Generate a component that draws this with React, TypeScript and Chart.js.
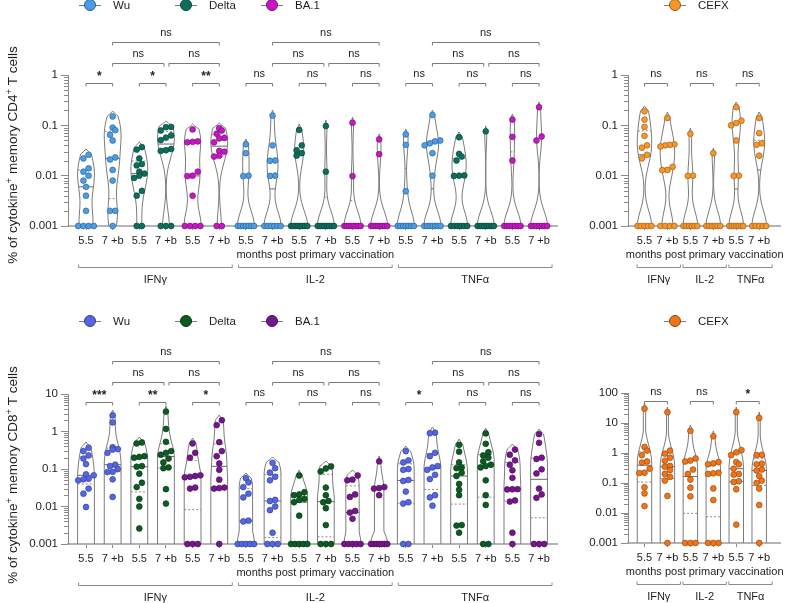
import React, { useEffect, useRef } from 'react';
import { Chart, registerables } from 'chart.js';

Chart.register(...registerables);

const FONT = 'Arial, "Liberation Sans", Helvetica, sans-serif';
const INK = '#1e1e1e';
const AXIS = '#8a8a8a';

// ---------- labels ----------
const cytokines = ['IFNγ', 'IL-2', 'TNFα'];
const timepoints = ['5.5', '7 +b'];
const variants = ['Wu', 'Delta', 'BA.1'];
const controlName = 'CEFX';
const xTitle = 'months post primary vaccination';
const cd4Title = ['% of cytokine', '+', ' memory CD4', '+', ' T cells'];
const cd8Title = ['% of cytokine', '+', ' memory CD8', '+', ' T cells'];

// ---------- y axes ----------
const cd4Ticks = [0.001, 0.01, 0.1, 1];
const cd4TickLabels = ['0.001', '0.01', '0.1', '1'];
const cd8Ticks = [0.001, 0.01, 0.1, 1, 10];
const cd8TickLabels = ['0.001', '0.01', '0.1', '1', '10'];
const cd8CefxTicks = [0.001, 0.01, 0.1, 1, 10, 100];
const cd8CefxTickLabels = ['0.001', '0.01', '0.1', '1', '10', '100'];

// ---------- CD4 data (per cytokine: Wu 5.5, Wu 7+b, Delta 5.5, Delta 7+b, BA.1 5.5, BA.1 7+b) ----------
const cd4IFNg = [
  [0.026, 0.022, 0.014, 0.012, 0.01, 0.008, 0.006, 0.004, 0.002, 0.001, 0.001, 0.001, 0.001],
  [0.15, 0.09, 0.08, 0.065, 0.05, 0.023, 0.021, 0.013, 0.008, 0.002, 0.002, 0.001],
  [0.037, 0.033, 0.022, 0.017, 0.016, 0.012, 0.011, 0.01, 0.009, 0.005, 0.004, 0.001, 0.001],
  [0.093, 0.092, 0.079, 0.063, 0.057, 0.051, 0.034, 0.032, 0.031, 0.001, 0.001, 0.001],
  [0.083, 0.048, 0.047, 0.046, 0.012, 0.01, 0.0098, 0.004, 0.001, 0.001, 0.001, 0.001],
  [0.088, 0.079, 0.068, 0.056, 0.055, 0.046, 0.031, 0.03, 0.025, 0.024, 0.001, 0.001],
];
const cd4IL2 = [
  [0.042, 0.028, 0.01, 0.0098, 0.001, 0.001, 0.001, 0.001, 0.001, 0.001, 0.001],
  [0.156, 0.04, 0.02, 0.0198, 0.01, 0.0099, 0.001, 0.001, 0.001, 0.001, 0.001, 0.001],
  [0.081, 0.04, 0.032, 0.028, 0.025, 0.001, 0.001, 0.001, 0.001, 0.001, 0.001, 0.001, 0.001],
  [0.097, 0.012, 0.001, 0.001, 0.001, 0.001, 0.001, 0.001, 0.001, 0.001],
  [0.113, 0.0098, 0.001, 0.001, 0.001, 0.001, 0.001, 0.001, 0.001, 0.001],
  [0.0525, 0.0267, 0.001, 0.001, 0.001, 0.001, 0.001, 0.001, 0.001, 0.001],
];
const cd4TNFa = [
  [0.066, 0.041, 0.0049, 0.001, 0.001, 0.001, 0.001, 0.001, 0.001, 0.001],
  [0.16, 0.05, 0.048, 0.044, 0.04, 0.028, 0.01, 0.001, 0.001, 0.001, 0.001, 0.001, 0.001, 0.001],
  [0.058, 0.027, 0.024, 0.02, 0.0101, 0.01, 0.0099, 0.001, 0.001, 0.001, 0.001, 0.001, 0.001],
  [0.076, 0.001, 0.001, 0.001, 0.001, 0.001, 0.001, 0.001, 0.001],
  [0.13, 0.059, 0.02, 0.001, 0.001, 0.001, 0.001, 0.001, 0.001, 0.001],
  [0.229, 0.06, 0.05, 0.001, 0.001, 0.001, 0.001, 0.001, 0.001, 0.001],
];
// CEFX: IFNγ 5.5, IFNγ 7+b, IL-2 5.5, IL-2 7+b, TNFα 5.5, TNFα 7+b
const cd4CEFX = [
  [0.19, 0.13, 0.093, 0.062, 0.04, 0.036, 0.026, 0.022, 0.001, 0.001, 0.001, 0.001, 0.001],
  [0.14, 0.042, 0.041, 0.04, 0.038, 0.015, 0.013, 0.0129, 0.001, 0.001, 0.001, 0.001],
  [0.068, 0.01, 0.0099, 0.001, 0.001, 0.001, 0.001, 0.001, 0.001],
  [0.028, 0.001, 0.001, 0.001, 0.001, 0.001, 0.001],
  [0.229, 0.124, 0.111, 0.1, 0.05, 0.01, 0.0099, 0.001, 0.001, 0.001, 0.001, 0.001, 0.001, 0.001],
  [0.14, 0.07, 0.044, 0.041, 0.025, 0.001, 0.001, 0.001, 0.001, 0.001],
];

// ---------- CD8 data ----------
const cd8IFNg = [
  [0.37, 0.3, 0.23, 0.19, 0.135, 0.072, 0.068, 0.055, 0.053, 0.05, 0.03, 0.022, 0.0097],
  [2.7, 1.75, 0.38, 0.34, 0.33, 0.27, 0.13, 0.12, 0.1, 0.084, 0.083, 0.053, 0.018],
  [0.51, 0.48, 0.22, 0.21, 0.2, 0.12, 0.115, 0.075, 0.043, 0.033, 0.016, 0.01, 0.0026],
  [3.4, 1.17, 0.53, 0.3, 0.27, 0.24, 0.19, 0.15, 0.11, 0.105, 0.029, 0.012],
  [0.48, 0.27, 0.2, 0.068, 0.065, 0.062, 0.06, 0.032, 0.03, 0.001, 0.001, 0.001],
  [2.0, 1.48, 0.52, 0.3, 0.22, 0.14, 0.095, 0.052, 0.032, 0.031, 0.03, 0.001],
];
const cd8IL2 = [
  [0.057, 0.044, 0.033, 0.022, 0.0175, 0.0042, 0.004, 0.001, 0.001, 0.001, 0.001, 0.001],
  [0.146, 0.105, 0.08, 0.062, 0.05, 0.015, 0.014, 0.01, 0.008, 0.002, 0.001, 0.001, 0.001],
  [0.067, 0.024, 0.021, 0.02, 0.016, 0.015, 0.013, 0.0057, 0.001, 0.001, 0.001, 0.001, 0.001],
  [0.117, 0.103, 0.086, 0.032, 0.02, 0.014, 0.013, 0.009, 0.0032, 0.001, 0.001, 0.001],
  [0.067, 0.052, 0.05, 0.021, 0.018, 0.0076, 0.0069, 0.0047, 0.001, 0.001, 0.001, 0.001, 0.001],
  [0.16, 0.033, 0.031, 0.03, 0.02, 0.001, 0.001, 0.001, 0.001, 0.001, 0.001, 0.001],
];
const cd8TNFa = [
  [0.3, 0.17, 0.15, 0.1, 0.095, 0.051, 0.048, 0.025, 0.013, 0.012, 0.001, 0.001],
  [0.93, 0.9, 0.27, 0.22, 0.12, 0.11, 0.095, 0.07, 0.054, 0.02, 0.0175, 0.0105],
  [0.44, 0.29, 0.15, 0.11, 0.105, 0.08, 0.065, 0.04, 0.028, 0.02, 0.0032, 0.0031, 0.002],
  [0.89, 0.47, 0.28, 0.23, 0.2, 0.16, 0.13, 0.12, 0.11, 0.05, 0.02, 0.011, 0.001, 0.001],
  [0.33, 0.24, 0.17, 0.13, 0.092, 0.058, 0.029, 0.0288, 0.0285, 0.0145, 0.0135, 0.002, 0.001],
  [0.85, 0.5, 0.2, 0.185, 0.098, 0.076, 0.03, 0.021, 0.017, 0.001, 0.001, 0.001],
];
const cd8CEFX = [
  [30, 1.6, 1.2, 0.85, 0.52, 0.48, 0.3, 0.22, 0.215, 0.072, 0.045, 0.017],
  [23, 1.2, 0.95, 0.7, 0.55, 0.37, 0.35, 0.27, 0.2, 0.16, 0.12, 0.037, 0.001],
  [5.5, 0.66, 0.56, 0.52, 0.28, 0.2, 0.13, 0.07, 0.036, 0.001, 0.001, 0.001],
  [3.6, 0.5, 0.45, 0.42, 0.22, 0.21, 0.2, 0.066, 0.027, 0.001, 0.001, 0.001],
  [23, 1.25, 1.05, 0.85, 0.5, 0.42, 0.3, 0.2, 0.19, 0.114, 0.108, 0.062, 0.0041],
  [14.7, 0.87, 0.85, 0.44, 0.42, 0.28, 0.26, 0.17, 0.12, 0.1, 0.065, 0.0185, 0.001],
];

// ---------- significance ----------
const cd4PairSig = ['*', '*', '**', 'ns', 'ns', 'ns', 'ns', 'ns', 'ns'];
const cd4StepSig = ['ns', 'ns', 'ns', 'ns', 'ns', 'ns'];
const cd4SpanSig = ['ns', 'ns', 'ns'];
const cd4CefxSig = ['ns', 'ns', 'ns'];
const cd8PairSig = ['***', '**', '*', 'ns', 'ns', 'ns', '*', 'ns', 'ns'];
const cd8StepSig = ['ns', 'ns', 'ns', 'ns', 'ns', 'ns'];
const cd8SpanSig = ['ns', 'ns', 'ns'];
const cd8CefxSig = ['ns', 'ns', '*'];

// ---------- colours ----------
const cd4Colors = ['#4a9de6', '#0e6e5c', '#c318c3'];
const cd4CefxColor = '#f7962a';
const cd8Colors = ['#5566e4', '#0c5b22', '#77168c'];
const cd8CefxColor = '#f07418';

// ---------- helpers ----------
type Sig = { a: number; b: number; level: number; text: string; trimA?: number; trimB?: number };
type LegendItem = { label: string; color: string; x: number; y: number };
type Cfg = {
  left: number; top: number; width: number; height: number;
  area: { left: number; top: number; right: number; bottom: number };
  groups: number[][]; colors: string[]; tickLabels: string[];
  yMin: number; yMax: number; yTicks: number[]; yTickLabels: string[];
  xMin: number; xMax: number; hold: boolean; bw: number;
  brackets: { label: string; from: number; to: number }[];
  monthsSpan: [number, number];
  sigs: Sig[];
  legend: LegendItem[];
  title?: { parts: string[]; x: number; y: number };
};

function darken(hex: string, f: number) {
  const n = parseInt(hex.slice(1), 16);
  const r = Math.round(((n >> 16) & 255) * f), g = Math.round(((n >> 8) & 255) * f), b = Math.round((n & 255) * f);
  return `rgb(${r},${g},${b})`;
}

function quantile(sorted: number[], p: number) {
  const n = sorted.length;
  const pos = p * (n + 1);
  if (pos <= 1) return sorted[0];
  if (pos >= n) return sorted[n - 1];
  const i = Math.floor(pos);
  return sorted[i - 1] + (pos - i) * (sorted[i] - sorted[i - 1]);
}

function mainSigs(pair: string[], step: string[], span: string[]): Sig[] {
  const out: Sig[] = [];
  for (let c = 0; c < 3; c++) {
    const b = c * 6;
    for (let p = 0; p < 3; p++) out.push({ a: b + 2 * p, b: b + 2 * p + 1, level: 0, text: pair[c * 3 + p] });
    out.push({ a: b + 1, b: b + 3, level: 1, text: step[c * 2], trimB: -2 });
    out.push({ a: b + 3, b: b + 5, level: 1, text: step[c * 2 + 1], trimA: 3 });
    out.push({ a: b + 1, b: b + 5, level: 2, text: span[c] });
  }
  return out;
}
function cefxSigs(pair: string[]): Sig[] {
  return pair.map((t, i) => ({ a: 2 * i, b: 2 * i + 1, level: 0, text: t }));
}

const TIP = 5;
const LEVELS = [8, -12, -33.5];

function textCentered(ctx: CanvasRenderingContext2D, s: string, x: number, cy: number, font: string) {
  ctx.font = font;
  ctx.textAlign = 'center';
  ctx.textBaseline = 'alphabetic';
  const m = ctx.measureText(s);
  ctx.fillText(s, x, cy + (m.actualBoundingBoxAscent - m.actualBoundingBoxDescent) / 2);
}

function violinProfile(chart: any, cfg: Cfg, vals: number[]) {
  const ys = chart.scales.y;
  const xs = chart.scales.x;
  const unit = xs.getPixelForValue(1) - xs.getPixelForValue(0);
  const halfW = unit * 0.315;
  const floor = ys.getPixelForValue(cfg.yMin);
  const pys = vals.map((v) => ys.getPixelForValue(v));
  const top = Math.min(...pys) - TIP;
  const N = Math.max(2, Math.ceil(floor - top));
  const d: number[] = [];
  for (let k = 0; k <= N; k++) {
    const y = floor - k;
    let s = 0;
    for (const p of pys) {
      const z = (y - p) / cfg.bw;
      s += Math.exp(-0.5 * z * z);
    }
    d.push(s);
  }
  if (cfg.hold) for (let k = N - 1; k >= 0; k--) d[k] = Math.max(d[k], d[k + 1]);
  const mx = Math.max(...d);
  const w = d.map((s, k) => {
    let v = (s / mx) * halfW;
    const fromTop = N - k;
    if (fromTop < TIP) v *= fromTop / TIP;
    return v;
  });
  return { w, N, floor };
}

function makePlugin(cfg: Cfg) {
  return {
    id: 'decor',
    beforeDatasetsDraw(chart: any) {
      const ctx: CanvasRenderingContext2D = chart.ctx;
      const xs = chart.scales.x, ys = chart.scales.y;
      ctx.save();
      cfg.groups.forEach((vals, gi) => {
        const cx = xs.getPixelForValue(gi);
        const { w, N, floor } = violinProfile(chart, cfg, vals);
        ctx.beginPath();
        ctx.moveTo(cx - w[0], floor);
        for (let k = 1; k <= N; k++) ctx.lineTo(cx - w[k], floor - k);
        for (let k = N; k >= 0; k--) ctx.lineTo(cx + w[k], floor - k);
        ctx.strokeStyle = '#7c7c7c';
        ctx.lineWidth = 1;
        ctx.setLineDash([]);
        ctx.stroke();
        const sorted = [...vals].sort((a, b) => a - b);
        const qs: [number, boolean][] = [[0.25, true], [0.5, false], [0.75, true]];
        qs.forEach(([p, dashed]) => {
          const q = quantile(sorted, p);
          const py = ys.getPixelForValue(q);
          if (py > floor - 1.5) return;
          const k = Math.min(N, Math.max(0, Math.round(floor - py)));
          const ww = w[k];
          ctx.beginPath();
          ctx.setLineDash(dashed ? [2, 2] : []);
          ctx.strokeStyle = dashed ? '#8a8a8a' : '#6a6a6a';
          ctx.moveTo(cx - ww, py);
          ctx.lineTo(cx + ww, py);
          ctx.stroke();
        });
      });
      ctx.restore();
    },
    afterDraw(chart: any) {
      const ctx: CanvasRenderingContext2D = chart.ctx;
      const xs = chart.scales.x, ys = chart.scales.y;
      const area = chart.chartArea;
      ctx.save();
      ctx.setLineDash([]);
      // minor y ticks
      ctx.strokeStyle = AXIS;
      ctx.lineWidth = 1;
      for (let dec = cfg.yMin; dec < cfg.yMax * 0.99; dec *= 10) {
        for (let m = 2; m <= 9; m++) {
          const y = Math.round(ys.getPixelForValue(m * dec)) + 0.5;
          ctx.beginPath();
          ctx.moveTo(area.left - 4, y);
          ctx.lineTo(area.left, y);
          ctx.stroke();
        }
      }
      // cytokine group brackets
      const base = area.bottom;
      ctx.strokeStyle = '#8c8c8c';
      cfg.brackets.forEach((br) => {
        const x1 = xs.getPixelForValue(br.from) - 7.4;
        const x2 = xs.getPixelForValue(br.to) + 13;
        const y = Math.round(base + 41) + 0.5;
        ctx.beginPath();
        ctx.moveTo(x1, y - 3);
        ctx.lineTo(x1, y);
        ctx.lineTo(x2, y);
        ctx.lineTo(x2, y - 3);
        ctx.stroke();
        ctx.fillStyle = INK;
        ctx.font = `11px ${FONT}`;
        ctx.textAlign = 'center';
        ctx.textBaseline = 'middle';
        ctx.fillText(br.label, (x1 + x2) / 2, base + 54);
      });
      // months label
      {
        const x1 = xs.getPixelForValue(cfg.monthsSpan[0]) - 7.4;
        const x2 = xs.getPixelForValue(cfg.monthsSpan[1]) + 13;
        ctx.fillStyle = INK;
        ctx.font = `11px ${FONT}`;
        ctx.textAlign = 'center';
        ctx.textBaseline = 'middle';
        ctx.fillText(xTitle, (x1 + x2) / 2, base + 29);
      }
      // significance brackets
      cfg.sigs.forEach((s) => {
        const x1 = xs.getPixelForValue(s.a) + (s.trimA || 0);
        const x2 = xs.getPixelForValue(s.b) + (s.trimB || 0);
        const y = Math.round(area.top + LEVELS[s.level]) + 0.5;
        ctx.strokeStyle = '#7a7a7a';
        ctx.beginPath();
        ctx.moveTo(x1, y + 3);
        ctx.lineTo(x1, y);
        ctx.lineTo(x2, y);
        ctx.lineTo(x2, y + 3);
        ctx.stroke();
        ctx.fillStyle = INK;
        const isStar = s.text.indexOf('*') >= 0;
        textCentered(ctx, s.text, (x1 + x2) / 2, y - 10, isStar ? `bold 12px ${FONT}` : `11px ${FONT}`);
      });
      // legend
      cfg.legend.forEach((it) => {
        ctx.strokeStyle = '#7a7a7a';
        ctx.beginPath();
        ctx.moveTo(it.x - 11, it.y + 0.5);
        ctx.lineTo(it.x + 11, it.y + 0.5);
        ctx.stroke();
        ctx.beginPath();
        ctx.arc(it.x, it.y, 5.5, 0, Math.PI * 2);
        ctx.fillStyle = it.color;
        ctx.fill();
        ctx.strokeStyle = darken(it.color, 0.6);
        ctx.stroke();
        ctx.fillStyle = INK;
        ctx.font = `11.5px ${FONT}`;
        ctx.textAlign = 'left';
        ctx.textBaseline = 'middle';
        ctx.fillText(it.label, it.x + 23, it.y + 0.5);
      });
      // y title with superscripts
      if (cfg.title) {
        const t = cfg.title;
        ctx.translate(t.x, t.y);
        ctx.rotate(-Math.PI / 2);
        const big = `13.5px ${FONT}`, small = `9.5px ${FONT}`;
        const widths = t.parts.map((p, i) => {
          ctx.font = i % 2 === 1 ? small : big;
          return ctx.measureText(p).width;
        });
        const total = widths.reduce((a, b) => a + b, 0);
        let x = -total / 2;
        ctx.fillStyle = INK;
        ctx.textAlign = 'left';
        ctx.textBaseline = 'alphabetic';
        t.parts.forEach((p, i) => {
          const sup = i % 2 === 1;
          ctx.font = sup ? small : big;
          ctx.fillText(p, x, sup ? -0.5 : 5);
          x += widths[i];
        });
      }
      ctx.restore();
    },
  };
}

function applySpread(chart: any, cfg: Cfg) {
  const xs = chart.scales.x, ys = chart.scales.y;
  const unit = xs.getPixelForValue(1) - xs.getPixelForValue(0);
  const halfW = unit * 0.315;
  const D = 5.2;
  const maxSpan = 2 * halfW - 0.5;
  cfg.groups.forEach((vals, gi) => {
    const pts = vals.map((v, k) => ({ k, py: ys.getPixelForValue(v) })).sort((a, b) => b.py - a.py);
    const offs = new Array(vals.length).fill(0);
    let i = 0;
    while (i < pts.length) {
      let j = i + 1;
      while (j < pts.length && Math.abs(pts[j].py - pts[i].py) < D) j++;
      const row = pts.slice(i, j);
      const n = row.length;
      const s = n > 1 ? Math.min(D, maxSpan / (n - 1)) : 0;
      row.forEach((p, r) => (offs[p.k] = (r - (n - 1) / 2) * s));
      i = j;
    }
    chart.data.datasets[gi].data = vals.map((v, k) => ({ x: gi + offs[k] / unit, y: v }));
  });
  chart.update('none');
}

function buildChart(canvas: HTMLCanvasElement, cfg: Cfg) {
  const datasets = cfg.groups.map((vals, gi) => ({
    data: vals.map((v) => ({ x: gi, y: v })),
    pointRadius: 2.9,
    pointBackgroundColor: cfg.colors[gi],
    pointBorderColor: darken(cfg.colors[gi], 0.65),
    pointBorderWidth: 0.7,
    showLine: false,
    clip: false as any,
  }));
  const chart = new Chart(canvas, {
    type: 'scatter',
    data: { datasets },
    options: {
      animation: false,
      responsive: false,
      devicePixelRatio: 1,
      events: [],
      layout: {
        padding: { left: 0, top: cfg.area.top, right: cfg.width - cfg.area.right, bottom: 0 },
      },
      plugins: { legend: { display: false }, tooltip: { enabled: false } },
      scales: {
        x: {
          type: 'linear',
          min: cfg.xMin,
          max: cfg.xMax,
          afterBuildTicks: (s: any) => {
            s.ticks = cfg.tickLabels.map((_, i) => ({ value: i }));
          },
          afterFit: (s: any) => {
            s.height = cfg.height - cfg.area.bottom;
          },
          ticks: {
            callback: (v: any) => cfg.tickLabels[Math.round(v)] ?? '',
            font: { family: FONT, size: 11 },
            color: INK,
            padding: 4,
            maxRotation: 0,
            autoSkip: false,
          },
          grid: { drawOnChartArea: false, drawTicks: true, tickLength: 4, color: AXIS },
          border: { display: true, color: '#b4b4b4', width: 2 },
        },
        y: {
          type: 'logarithmic',
          min: cfg.yMin,
          max: cfg.yMax,
          afterBuildTicks: (s: any) => {
            s.ticks = cfg.yTicks.map((v) => ({ value: v, major: true }));
          },
          afterFit: (s: any) => {
            s.width = cfg.area.left;
          },
          ticks: {
            callback: (v: any) => {
              const i = cfg.yTicks.findIndex((t) => Math.abs(t - v) / t < 1e-6);
              return i >= 0 ? cfg.yTickLabels[i] : '';
            },
            font: { family: FONT, size: 11.5 },
            color: INK,
            padding: 3,
            autoSkip: false,
          },
          grid: { drawOnChartArea: false, drawTicks: true, tickLength: 7, color: AXIS },
          border: { display: true, color: AXIS, width: 1 },
        },
      },
    } as any,
    plugins: [makePlugin(cfg) as any],
  });
  applySpread(chart, cfg);
  return chart;
}

function Panel({ cfg }: { cfg: Cfg }) {
  const ref = useRef<HTMLCanvasElement>(null);
  useEffect(() => {
    const chart = buildChart(ref.current!, cfg);
    return () => chart.destroy();
  }, []);
  return (
    <canvas
      ref={ref}
      width={cfg.width}
      height={cfg.height}
      style={{ position: 'absolute', left: cfg.left, top: cfg.top, width: cfg.width, height: cfg.height }}
    />
  );
}

// ---------- panel configs ----------
const mainTickLabels = cytokines.flatMap(() => variants.flatMap(() => timepoints));
const cefxTickLabels = cytokines.flatMap(() => timepoints);
const mainBrackets = cytokines.map((c, i) => ({ label: c, from: i * 6, to: i * 6 + 5 }));
const cefxBrackets = cytokines.map((c, i) => ({ label: c, from: i * 2, to: i * 2 + 1 }));

function mainColors(cols: string[]) {
  return cytokines.flatMap(() => cols.flatMap((c) => [c, c]));
}

const MAIN_X = { xMin: (68 - 86) / 26.65, xMax: (557 - 86) / 26.65 };
const CEFX_X = { xMin: (48 - 65) / 23.65, xMax: (205 - 65) / 23.65 };

const cd4Main: Cfg = {
  left: 0, top: 0, width: 580, height: 300,
  area: { left: 68, top: 75, right: 557, bottom: 226 },
  groups: [...cd4IFNg, ...cd4IL2, ...cd4TNFa],
  colors: mainColors(cd4Colors),
  tickLabels: mainTickLabels,
  yMin: 0.001, yMax: 1, yTicks: cd4Ticks, yTickLabels: cd4TickLabels,
  ...MAIN_X, hold: false, bw: 15,
  brackets: mainBrackets, monthsSpan: [6, 11],
  sigs: mainSigs(cd4PairSig, cd4StepSig, cd4SpanSig),
  legend: variants.map((v, i) => ({ label: v, color: cd4Colors[i], x: [90, 186, 272][i], y: 5 })),
  title: { parts: cd4Title, x: 12, y: 155 },
};
const cd4Cefx: Cfg = {
  left: 580, top: 0, width: 205, height: 300,
  area: { left: 48, top: 75, right: 205, bottom: 226 },
  groups: cd4CEFX,
  colors: cd4CEFX.map(() => cd4CefxColor),
  tickLabels: cefxTickLabels,
  yMin: 0.001, yMax: 1, yTicks: cd4Ticks, yTickLabels: cd4TickLabels,
  ...CEFX_X, hold: false, bw: 15,
  brackets: cefxBrackets, monthsSpan: [0, 5],
  sigs: cefxSigs(cd4CefxSig),
  legend: [{ label: controlName, color: cd4CefxColor, x: 95, y: 5 }],
};
const cd8Main: Cfg = {
  left: 0, top: 300, width: 580, height: 303,
  area: { left: 68, top: 94, right: 557, bottom: 244 },
  groups: [...cd8IFNg, ...cd8IL2, ...cd8TNFa],
  colors: mainColors(cd8Colors),
  tickLabels: mainTickLabels,
  yMin: 0.001, yMax: 10, yTicks: cd8Ticks, yTickLabels: cd8TickLabels,
  ...MAIN_X, hold: true, bw: 12,
  brackets: mainBrackets, monthsSpan: [6, 11],
  sigs: mainSigs(cd8PairSig, cd8StepSig, cd8SpanSig),
  legend: variants.map((v, i) => ({ label: v, color: cd8Colors[i], x: [90, 186, 272][i], y: 21 })),
  title: { parts: cd8Title, x: 12, y: 175 },
};
const cd8Cefx: Cfg = {
  left: 580, top: 300, width: 205, height: 303,
  area: { left: 48, top: 93, right: 205, bottom: 243 },
  groups: cd8CEFX,
  colors: cd8CEFX.map(() => cd8CefxColor),
  tickLabels: cefxTickLabels,
  yMin: 0.001, yMax: 100, yTicks: cd8CefxTicks, yTickLabels: cd8CefxTickLabels,
  ...CEFX_X, hold: true, bw: 12,
  brackets: cefxBrackets, monthsSpan: [0, 5],
  sigs: cefxSigs(cd8CefxSig),
  legend: [{ label: controlName, color: cd8CefxColor, x: 95, y: 21 }],
};

export default function App() {
  return (
    <div style={{ position: 'absolute', left: 0, top: 0, width: 785, height: 603, background: '#fff' }}>
      <Panel cfg={cd4Main} />
      <Panel cfg={cd4Cefx} />
      <Panel cfg={cd8Main} />
      <Panel cfg={cd8Cefx} />
    </div>
  );
}
